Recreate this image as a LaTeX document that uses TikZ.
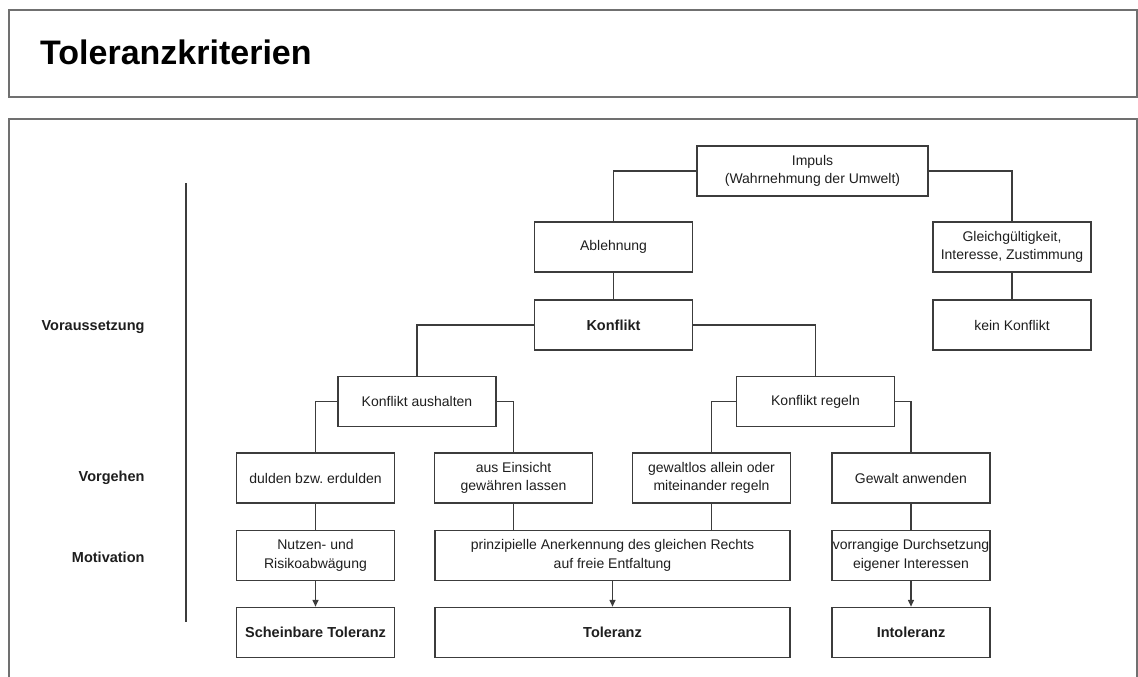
\documentclass[tikz,border=0pt]{standalone}
\usepackage{fontspec}
\setmainfont{Liberation Sans}
\usetikzlibrary{arrows.meta}
\definecolor{framegray}{HTML}{707070}
\definecolor{boxgray}{HTML}{3C3C3C}
\definecolor{textgray}{HTML}{1E1E1E}
\tikzset{
  frame/.style={draw=framegray, line width=2pt},
  box/.style={draw=boxgray, line width=1.5pt, minimum width=158pt, minimum height=50pt,
    inner xsep=0pt, align=center, text=textgray, font=\fontsize{14}{18.5}\selectfont},
  widebox/.style={box, minimum width=355pt},
  link/.style={draw=boxgray, line width=1.5pt},
  sidelabel/.style={anchor=east, text=textgray, font=\bfseries\fontsize{14.5}{17}\selectfont}
}
\begin{document}
\begin{tikzpicture}[x=1pt,y=-1pt]
\useasboundingbox (0,0) rectangle (1138,677);
\draw[frame] (9,10) rectangle (1137,97); % title frame
\node[anchor=base west, inner sep=0pt, text=black, font=\bfseries\fontsize{34}{40}\selectfont] (title) at (40,65) {Toleranzkriterien};
\draw[frame] (9,677) -- (9,119) -- (1137,119) -- (1137,677); % main frame
%\draw[frame] (9,677) -- (1137,677);
\coordinate (ltop) at (186,183);
\coordinate (lbot) at (186,622);
\draw[link] (ltop) -- (lbot);
\node[sidelabel] (vorauss) at (148,327) {Voraussetzung};
\node[sidelabel] (vorgehen) at (148,478) {Vorgehen};
\node[sidelabel] (motiv) at (148,557) {Motivation};
% edit here for the boxes
\node[box, minimum width=231pt] (impuls) at (812.5,171) {Impuls\\(Wahrnehmung der Umwelt)};
\node[box] (ablehnung) at (613.5,247) {Ablehnung};
\node[box] (gleich) at (1012,247) {Gleichgültigkeit,\\Interesse, Zustimmung};
\node[box, font=\bfseries\fontsize{14.5}{18}\selectfont] (konflikt) at (613.5,325) {Konflikt};
\node[box] (kein) at (1012,325) {kein Konflikt};
\node[box] (aushalten) at (417,401.5) {Konflikt aushalten};
\node[box] (regeln) at (815.5,401.5) {Konflikt regeln};
\node[box] (dulden) at (315.5,478) {dulden bzw.\ erdulden};
\node[box] (einsicht) at (513.5,478) {aus Einsicht\\gewähren lassen};
\node[box] (gewaltlos) at (711.5,478) {gewaltlos allein oder\\miteinander regeln};
\node[box] (gewalt) at (911,478) {Gewalt anwenden};
\node[box] (nutzen) at (315.5,555.5) {Nutzen- und\\Risikoabwägung};
\node[widebox] (prinzip) at (612.5,555.5) {prinzipielle Anerkennung des gleichen Rechts\\auf freie Entfaltung};
\node[box] (vorrang) at (911,555.5) {vorrangige Durchsetzung\\eigener Interessen};
\node[box, font=\bfseries\fontsize{14.5}{18}\selectfont] (schein) at (315.5,632.5) {Scheinbare Toleranz};
\node[widebox, font=\bfseries\fontsize{14.5}{18}\selectfont] (toleranz) at (612.5,632.5) {Toleranz};
\node[box, font=\bfseries\fontsize{14.5}{18}\selectfont] (intol) at (911,632.5) {Intoleranz};
% edit here for the lines
\foreach \a/\b in {impuls/ablehnung, konflikt/aushalten, aushalten/dulden, regeln/gewaltlos}
\draw[link] (\a.west) -| (\b.north);
\foreach \a/\b in {impuls/gleich, konflikt/regeln, aushalten/einsicht, regeln/gewalt}
\draw[link] (\a.east) -| (\b.north);
\foreach \a/\b in {ablehnung/konflikt, gleich/kein, dulden/nutzen, einsicht/prinzip, gewaltlos/prinzip, gewalt/vorrang}
\draw[link] (\a.south) -- (\a.south |- \b.north);
\foreach \a/\b in {nutzen/schein, prinzip/toleranz, vorrang/intol}
\draw[link, -{Triangle[width=6pt,length=7pt]}] (\a) -- (\b);
\end{tikzpicture}
\end{document}
